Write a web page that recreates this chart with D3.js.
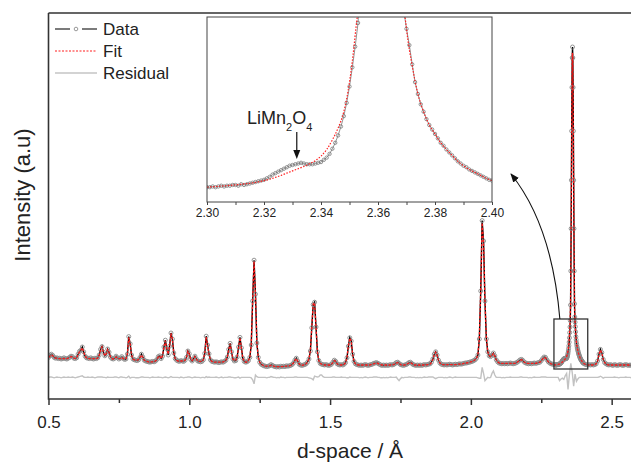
<!DOCTYPE html>
<html lang="en">
<head>
<meta charset="UTF-8" />
<script src="https://d3js.org/d3.v7.min.js"></script>
<title>d-space</title>
<style>
  body { margin: 0; background: #fff; }
</style>
</head>
<body>
<script>
const width = 631, height = 463
const font = 'Arial, "Liberation Sans", sans-serif'

// survey pattern, regular grid in d-space (Å)
const dStart = 0.5, dStep = 0.005
const observed = [
  104,108,112,109,104,102,103,101,102,100,101,103,101,100,102,104,107,106,102,101,
  103,112,119,122,130,118,107,103,102,101,103,101,100,102,101,103,110,124,131,117,
  108,112,125,117,105,101,100,102,107,103,100,102,106,102,99,100,112,156,138,110,
  100,98,97,96,98,104,112,105,97,95,94,93,92,93,94,93,95,99,106,108,
  101,107,130,147,126,110,132,165,150,115,101,97,95,94,96,95,94,97,104,120,
  113,99,95,100,107,100,95,94,93,94,98,114,157,135,113,98,94,93,92,93,
  92,91,92,93,92,94,97,105,124,139,118,100,95,96,105,130,154,128,102,94,
  92,93,96,104,135,245,347,262,140,104,92,87,85,83,82,81,82,83,86,84,
  82,81,80,81,80,82,81,82,81,83,82,83,84,86,90,97,102,95,87,85,
  84,85,86,88,92,100,120,178,236,242,180,118,96,89,87,86,85,86,85,84,
  85,87,92,97,94,88,86,85,86,85,87,91,103,132,153,145,112,94,88,86,
  85,84,85,84,85,86,85,84,85,86,87,89,90,91,89,87,85,84,85,84,
  85,84,85,86,85,86,88,91,92,89,86,85,84,85,86,88,91,92,89,86,
  85,84,85,84,85,84,85,86,85,86,87,88,92,100,112,118,110,97,90,87,
  86,85,86,85,86,87,86,85,86,87,86,87,88,87,88,89,90,90,91,92,
  93,94,96,98,102,110,150,270,446,395,245,150,118,108,106,110,115,108,98,93,
  90,89,88,89,88,89,88,89,90,89,88,89,90,92,95,98,99,96,92,90,
  89,88,89,88,89,90,89,90,91,92,96,101,105,104,98,93,90,88,87,86,
  85,86,87,87,90,95,100,101,102,115,155,320,880,547,192,141,121,108,100,94,
  89,87,86,85,86,85,86,85,86,88,95,112,124,116,99,91,88,86,85,86,
  85,84,86,85,84,85,86,85,84,85,86,85,84,85,84,85,86,85,84,85,
  85,84,85,86,85,84,85,86,85,85
]
const fitted = [
  104,107,110,108,104,102,102,101,101,101,101,101,101,101,102,104,106,105,102,101,
  103,111,118,122,128,118,107,103,101,101,101,101,101,101,101,102,109,122,130,117,
  108,113,124,117,105,101,100,101,105,103,101,101,104,101,100,101,112,154,138,110,
  100,98,97,97,99,104,110,104,97,95,94,93,93,93,93,94,95,99,105,108,
  101,108,130,146,126,112,132,164,150,115,101,97,95,95,95,95,95,97,104,119,
  112,99,96,100,106,100,95,94,94,94,98,115,155,135,112,98,94,93,92,92,
  92,92,92,92,93,94,97,105,123,138,118,100,96,97,105,129,153,128,102,94,
  92,93,96,104,136,248,344,262,140,104,92,87,85,83,82,82,82,83,84,83,
  82,81,81,81,81,81,81,82,82,82,82,83,84,86,90,96,101,95,88,85,
  84,85,86,88,92,101,122,180,238,240,180,118,96,89,87,86,85,85,85,85,
  85,87,91,96,94,88,86,85,85,85,87,91,104,133,152,145,112,94,88,86,
  85,85,85,85,85,85,85,85,85,86,87,88,89,90,89,87,86,85,85,85,
  85,85,85,85,85,86,88,90,91,89,86,85,85,85,86,88,90,91,89,86,
  85,85,85,85,85,85,85,85,85,86,86,87,91,99,111,117,110,97,90,87,
  86,86,86,86,86,86,86,86,86,86,86,87,87,87,88,89,89,90,91,92,
  93,94,96,98,102,111,152,272,440,392,245,151,118,109,106,109,114,108,98,93,
  90,89,89,89,89,89,89,89,89,89,89,89,90,92,95,97,98,96,92,90,
  89,89,89,89,89,89,89,90,91,92,95,100,104,103,98,93,90,88,87,86,
  85,86,87,88,90,93,96,101,106,121,156,330,860,540,190,142,121,107,100,94,
  89,87,86,85,85,85,85,85,86,88,95,111,122,115,99,91,88,86,85,85,
  85,85,85,85,85,85,85,85,85,85,85,85,85,85,85,85,85,85,85,85,
  85,85,85,85,85,85,85,85,85,85
]
const residual = [
  0,1,1,0,-1,0,1,0,0,-1,0,1,0,0,1,0,0,1,0,-1,
  0,1,2,3,4,1,0,0,1,0,0,1,0,-1,0,1,1,1,1,0,
  0,-1,1,0,0,0,0,1,1,0,-1,1,1,0,0,-1,0,3,-2,0,
  0,0,-1,-1,-1,0,1,1,0,0,0,0,-1,0,1,0,0,0,1,0,
  0,-1,0,1,0,-1,0,2,0,0,0,0,0,-1,1,0,-1,0,0,1,
  1,0,-1,0,1,0,0,0,-1,0,0,-1,2,0,1,0,0,0,0,1,
  0,-1,0,1,-1,0,0,0,1,1,0,0,-1,-1,0,1,-2,0,0,0,
  0,0,0,0,-1,-6,-16,6,2,0,0,0,0,0,0,-1,0,0,2,1,
  0,0,-1,0,-1,1,0,0,-1,0,0,0,0,0,0,1,1,0,0,0,
  0,0,0,0,0,-1,-2,-3,-6,3,2,1,2,6,6,2,0,0,0,0,
  0,0,1,1,0,0,0,0,1,0,0,0,-1,-1,1,0,0,0,0,0,
  0,-1,0,-1,0,1,0,-1,0,0,0,1,1,1,0,0,-1,-1,0,-1,
  0,-1,0,1,0,0,0,1,-4,-8,-3,0,-1,0,0,0,1,1,0,0,
  0,-1,0,-1,0,-1,0,1,0,0,1,1,1,1,-1,-3,-1,0,0,0,
  0,-1,0,-1,0,1,0,-1,0,1,0,0,0,0,0,0,0,0,0,0,
  0,0,0,0,0,-1,-2,-2,25,10,-8,-4,0,-1,0,10,16,6,0,0,
  0,0,-1,0,-1,0,0,0,1,0,0,0,0,0,0,1,1,0,0,0,
  0,-1,0,-1,0,1,0,0,0,0,1,1,1,1,0,0,0,0,0,0,
  0,0,0,-8,-4,-2,-5,4,10,-30,8,35,12,-22,8,-10,-4,0,0,0,
  0,0,0,0,0,0,0,0,0,0,0,1,3,1,-2,0,0,0,0,0,
  0,0,1,0,0,-1,0,0,0,0,1,0,0,0,-1,0,0,0,0,0,
  0,0,0,0,0,0,0,0,0,0
]
const residualOffset = 54

// fine scan of the 2.30 - 2.40 Å window (shown in the inset)
const zoomStart = 2.30, zoomEnd = 2.40, zoomStep = 0.001
const zoomObserved = [
  85,85,85.5,85,85.5,86,85.5,86,86,86.5,
  86.5,86,87,86.5,87,87.5,88,88.5,89,89.5,
  90,91,92,93.5,94.5,95.5,96.5,97.5,98.5,99.5,
  100,100.5,101,101.5,101,100.5,100.5,100.5,101,101.5,
  102,103.5,105,107.5,111,115,120,126,133,142,
  153,166,180,196,235,320,426,547,670,779,
  853,880,853,779,670,547,426,320,238,205,
  192,181,168,156,148,141,136,131,127,124,
  121,118,115,113,110.5,108.5,106.5,104.5,102.5,101,
  99.5,98.5,97,96,95,94,93,92,91,90,
  89.5
]
const zoomFitStep = 0.002
const zoomFitted = [
  85,85.3,85.6,85.9,86.2,86.6,87,87.4,87.9,88.6,
  89.4,90.4,91.6,93,94.5,96,97.5,99,100.8,103,
  106,110.5,117,125,136,156,188,235,420,665,
  865,860,665,420,236,192,167,148,136,127,
  121,115,110.5,106.5,102.5,99.5,97,95,93,91,
  89.5
]

const xTicks = [0.5, 1.0, 1.5, 2.0, 2.5]
const xMinorTicks = [0.75, 1.25, 1.75, 2.25]
const zoomTicks = [2.30, 2.32, 2.34, 2.36, 2.38, 2.40]
const zoomMinorTicks = [2.31, 2.33, 2.35, 2.37, 2.39]
const legendItems = ['Data', 'Fit', 'Residual']

const svg = d3.select('body').append('svg')
  .attr('width', width).attr('height', height)
  .style('font-family', font)

const x = d3.scaleLinear().domain([0.5, 2.645]).range([48.5, 652.5])
const y = d3.scaleLinear().domain([0, 965]).range([399, 13])

const toPoints = (vals, start, step) => vals.map((v, i) => ({ d: +(start + i * step).toFixed(4), v }))
const inZoom = p => p.d >= zoomStart && p.d <= zoomEnd
const merge = (coarse, fine) => coarse.filter(p => !inZoom(p)).concat(fine).sort((a, b) => a.d - b.d)

const obsPts = merge(toPoints(observed, dStart, dStep), toPoints(zoomObserved, zoomStart, zoomStep))
const fitPts = merge(toPoints(fitted, dStart, dStep), toPoints(zoomFitted, zoomStart, zoomFitStep))
const resPts = toPoints(residual, dStart, dStep)

const defs = svg.append('defs')
defs.append('clipPath').attr('id', 'plotClip')
  .append('rect').attr('x', 48.5).attr('y', 13).attr('width', 604).attr('height', 386)
defs.append('clipPath').attr('id', 'zoomClip')
  .append('rect').attr('x', 207).attr('y', 17).attr('width', 285).attr('height', 185)
defs.append('marker').attr('id', 'head').attr('viewBox', '0 0 10 10')
  .attr('refX', 9).attr('refY', 5).attr('markerWidth', 9).attr('markerHeight', 9)
  .attr('markerUnits', 'userSpaceOnUse').attr('orient', 'auto')
  .append('path').attr('d', 'M0,1 L10,5 L0,9 Z').attr('fill', '#111')

// main pattern
const plot = svg.append('g').attr('clip-path', 'url(#plotClip)')
const line = d3.line().x(p => x(p.d)).y(p => y(p.v))

plot.append('path').datum(resPts)
  .attr('d', d3.line().x(p => x(p.d)).y(p => y(residualOffset + p.v)))
  .attr('fill', 'none').attr('stroke', '#c2c2c2').attr('stroke-width', 1.4)

plot.append('path').datum(obsPts).attr('d', line)
  .attr('fill', 'none').attr('stroke', '#000').attr('stroke-width', 1.4)

plot.selectAll('circle.obs').data(obsPts).enter().append('circle')
  .attr('class', 'obs')
  .attr('cx', p => x(p.d)).attr('cy', p => y(p.v)).attr('r', 2)
  .attr('fill', 'none').attr('stroke', '#8a8a8a').attr('stroke-width', 0.9)

plot.append('path').datum(fitPts).attr('d', line)
  .attr('fill', 'none').attr('stroke', '#ff1a1a').attr('stroke-width', 1.3)
  .attr('stroke-dasharray', '2.5,1.5')

// frame
svg.append('path').attr('d', 'M48.5,13 H631 M48.5,13 V399 H631')
  .attr('fill', 'none').attr('stroke', '#333').attr('stroke-width', 1.6)

const gx = svg.append('g').attr('transform', 'translate(0,399)')
  .call(d3.axisBottom(x).tickValues(xTicks).tickFormat(d3.format('.1f')).tickSize(6).tickPadding(11))
gx.select('.domain').remove()
gx.attr('font-family', font).attr('font-size', 17)
gx.selectAll('line').attr('stroke', '#333').attr('stroke-width', 1.5)
gx.selectAll('text').attr('fill', '#222')

const gxm = svg.append('g').attr('transform', 'translate(0,399)')
  .call(d3.axisBottom(x).tickValues(xMinorTicks).tickFormat('').tickSize(4))
gxm.select('.domain').remove()
gxm.selectAll('line').attr('stroke', '#333').attr('stroke-width', 1.5)

svg.append('text').attr('x', 350).attr('y', 458).attr('text-anchor', 'middle')
  .attr('font-size', 21).attr('fill', '#222').text('d-space / Å')
svg.append('text').attr('transform', 'translate(30,195) rotate(-90)').attr('text-anchor', 'middle')
  .attr('font-size', 22).attr('fill', '#222').text('Intensity (a.u)')

// legend
const legend = svg.append('g')
legendItems.forEach((name, i) => {
  const ly = 29 + i * 22
  const g = legend.append('g')
  if (name === 'Data') {
    g.append('line').attr('x1', 55).attr('x2', 70).attr('y1', ly).attr('y2', ly).attr('stroke', '#333').attr('stroke-width', 1.3)
    g.append('line').attr('x1', 82).attr('x2', 97).attr('y1', ly).attr('y2', ly).attr('stroke', '#333').attr('stroke-width', 1.3)
    g.append('circle').attr('cx', 76).attr('cy', ly).attr('r', 1.8).attr('fill', 'none').attr('stroke', '#999')
  } else if (name === 'Fit') {
    g.append('line').attr('x1', 55).attr('x2', 97).attr('y1', ly).attr('y2', ly)
      .attr('stroke', '#ff1f1f').attr('stroke-width', 1.2).attr('stroke-dasharray', '2,1.5')
  } else {
    g.append('line').attr('x1', 55).attr('x2', 97).attr('y1', ly).attr('y2', ly).attr('stroke', '#c4c4c4').attr('stroke-width', 1.3)
  }
  g.append('text').attr('x', 103).attr('y', ly).attr('dy', '0.35em')
    .attr('font-size', 17).attr('fill', '#222').text(name)
})

// zoom box and connecting arrow
svg.append('rect')
  .attr('x', x(2.295)).attr('y', y(200))
  .attr('width', x(2.415) - x(2.295)).attr('height', y(75) - y(200))
  .attr('fill', 'none').attr('stroke', '#333').attr('stroke-width', 1.3)

svg.append('path')
  .attr('d', `M${x(2.316)},${y(200)} Q552,225 511,174`)
  .attr('fill', 'none').attr('stroke', '#111').attr('stroke-width', 1.1)
  .attr('marker-end', 'url(#head)')

// inset
const xi = d3.scaleLinear().domain([zoomStart, zoomEnd]).range([207, 492])
const yi = d3.scaleLinear().domain([75, 200]).range([202, 17])

svg.append('rect').attr('x', 207).attr('y', 17).attr('width', 285).attr('height', 185)
  .attr('fill', '#fff')

const zoomObsPts = toPoints(zoomObserved, zoomStart, zoomStep)
const zoomFitPts = toPoints(zoomFitted, zoomStart, zoomFitStep)
const inset = svg.append('g').attr('clip-path', 'url(#zoomClip)')
const iline = d3.line().x(p => xi(p.d)).y(p => yi(p.v))

inset.append('path').datum(zoomObsPts).attr('d', iline)
  .attr('fill', 'none').attr('stroke', '#777').attr('stroke-width', 0.8)
inset.selectAll('circle').data(zoomObsPts).enter().append('circle')
  .attr('cx', p => xi(p.d)).attr('cy', p => yi(p.v)).attr('r', 1.7)
  .attr('fill', 'none').attr('stroke', '#7a7a7a').attr('stroke-width', 0.8)
inset.append('path').datum(zoomFitPts).attr('d', iline.curve(d3.curveMonotoneX))
  .attr('fill', 'none').attr('stroke', '#ff1f1f').attr('stroke-width', 1.2)
  .attr('stroke-dasharray', '1.5,1.5')

svg.append('rect').attr('x', 207).attr('y', 17).attr('width', 285).attr('height', 185)
  .attr('fill', 'none').attr('stroke', '#444').attr('stroke-width', 1)

const gi = svg.append('g').attr('transform', 'translate(0,202)')
  .call(d3.axisBottom(xi).tickValues(zoomTicks).tickFormat(d3.format('.2f')).tickSize(3).tickPadding(3))
gi.select('.domain').remove()
gi.attr('font-family', font).attr('font-size', 12)
gi.selectAll('line').attr('stroke', '#444')
gi.selectAll('text').attr('fill', '#222')
const gim = svg.append('g').attr('transform', 'translate(0,202)')
  .call(d3.axisBottom(xi).tickValues(zoomMinorTicks).tickFormat('').tickSize(3))
gim.select('.domain').remove()
gim.selectAll('line').attr('stroke', '#444')

// phase label
const label = svg.append('text').attr('x', 247).attr('y', 124).attr('font-size', 18).attr('fill', '#222')
label.append('tspan').text('LiMn')
label.append('tspan').attr('font-size', 11).attr('dy', 7).text('2')
label.append('tspan').attr('dy', -7).text('O')
label.append('tspan').attr('font-size', 11).attr('dy', 7).text('4')

const ax = xi(2.3315)
svg.append('line').attr('x1', ax).attr('x2', ax).attr('y1', 132).attr('y2', 151)
  .attr('stroke', '#111').attr('stroke-width', 1.2)
svg.append('path').attr('d', `M${ax - 3.5},150 L${ax + 3.5},150 L${ax},${yi(104)} Z`).attr('fill', '#111')
</script>
</body>
</html>
